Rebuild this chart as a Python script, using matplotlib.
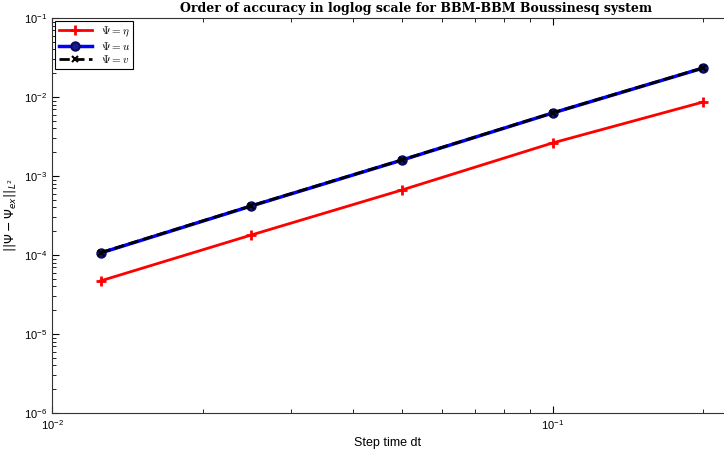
import numpy as np
import matplotlib
matplotlib.use('Agg')
import matplotlib.pyplot as plt

plt.rcParams['font.family'] = ['Liberation Sans', 'DejaVu Sans']
plt.rcParams['mathtext.fontset'] = 'cm'

# step sizes and errors
dt = [0.0125, 0.025, 0.05, 0.1, 0.2]
err_eta = [4.7e-5, 1.79e-4, 6.65e-4, 2.62e-3, 8.65e-3]
err_u = [1.06e-4, 4.17e-4, 1.59e-3, 6.27e-3, 2.33e-2]
err_v = [1.07e-4, 4.2e-4, 1.6e-3, 6.3e-3, 2.34e-2]

fig = plt.figure(figsize=(7.24, 4.51), dpi=100)
ax = fig.add_axes([52/724, 38/451, 672/724, 395/451])

ax.loglog(dt, err_eta, color='red', lw=2, marker='+', ms=7, mew=2,
          label=r'$\Psi = \eta$')
ax.loglog(dt, err_u, color='blue', lw=2.5, marker='o', ms=6, mew=1.5,
          mfc='#1a1a8c', mec='#0a0a60', label=r'$\Psi = u$')
ax.loglog(dt, err_v, color='black', lw=2, ls='--', marker='x', ms=4, mew=1.5,
          label=r'$\Psi = v$')

ax.set_xlim(0.01, 0.22)
ax.set_ylim(1e-6, 1e-1)
ax.tick_params(which='both', direction='in', labelsize=8, top=True, right=False)
ax.tick_params(which='major', length=5)
ax.tick_params(which='minor', length=3)
for s in ['left', 'bottom', 'top']:
    ax.spines[s].set_color('#333333')
ax.spines['right'].set_visible(False)

ax.set_xlabel('Step time dt', fontsize=9)
ax.set_ylabel(r'$||\Psi - \Psi_{ex}||_{L^2}$', fontsize=9,
              math_fontfamily='dejavusans')
ax.set_title('Order of accuracy in loglog scale for BBM-BBM Boussinesq system',
             fontsize=9, fontweight='bold', family='DejaVu Serif', pad=4,
             x=0.542)

leg = ax.legend(loc='upper left', fontsize=8, fancybox=False, framealpha=1,
                edgecolor='black', handlelength=3, borderpad=0.3,
                labelspacing=0.1, borderaxespad=0.3)
leg.get_frame().set_linewidth(0.8)

plt.savefig('out.png', dpi=100)
plt.close()
